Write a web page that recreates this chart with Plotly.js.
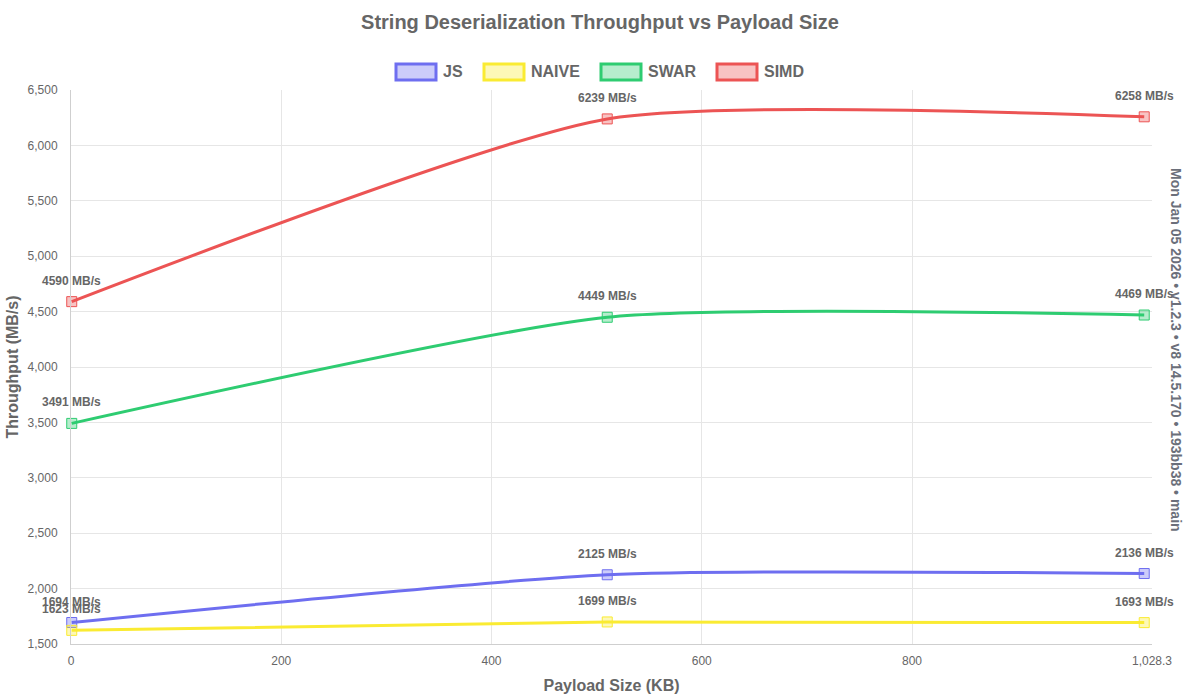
<!DOCTYPE html>
<html>
<head>
<meta charset="utf-8">
<script src="https://cdn.plot.ly/plotly-3.0.1.min.js"></script>
<style>html,body{margin:0;padding:0;background:#fff;}#chart{width:1200px;height:700px;}</style>
</head>
<body>
<div id="chart"></div>
<script>
// ---- data ----
const payloadKB = [0.7, 510.1, 1020.9];
const seriesNames = ["JS", "NAIVE", "SWAR", "SIMD"];
const jsValues = [1694, 2125, 2136];
const naiveValues = [1623, 1699, 1693];
const swarValues = [3491, 4449, 4469];
const simdValues = [4590, 6239, 6258];
const xTickVals = [0, 200, 400, 600, 800, 1028.3];
const xTickText = ["0", "200", "400", "600", "800", "1,028.3"];
const footerText = "Mon Jan 05 2026 • v1.2.3 • v8 14.5.170 • 193bb38 • main";
const titleText = "String Deserialization Throughput vs Payload Size";

// ---- styles ----
const lineColors = ["rgb(110,110,240)", "rgb(250,235,50)", "rgb(46,204,113)", "rgb(236,84,84)"];
const fillColors = ["rgba(110,110,240,0.35)", "rgba(250,235,50,0.35)", "rgba(46,204,113,0.35)", "rgba(236,84,84,0.35)"];
const allValues = [jsValues, naiveValues, swarValues, simdValues];

const W = 1200, H = 700;
const M = {l: 71, r: 48, t: 90, b: 56};
const pw = W - M.l - M.r, ph = H - M.t - M.b;
const px = x => (x - M.l) / pw;
const py = y => (H - M.b - y) / ph;
const FONT = "Liberation Sans, Arial, Helvetica, sans-serif";
const TXT = "#666";

const traces = seriesNames.map((name, i) => ({
  type: "scatter",
  mode: "lines+markers",
  name: name,
  x: payloadKB,
  y: allValues[i],
  line: {color: lineColors[i], width: 3, shape: "spline", smoothing: 0.6},
  marker: {symbol: "square", size: 10, color: fillColors[i], line: {color: lineColors[i], width: 1}},
  cliponaxis: false,
  showlegend: false,
  hoverinfo: "none"
}));

const annotations = [];
const shapes = [];
seriesNames.forEach((name, i) => {
  allValues[i].forEach((v, j) => {
    annotations.push({
      x: payloadKB[j], y: v, xref: "x", yref: "y",
      text: v + " MB/s", showarrow: false,
      yanchor: "middle", xanchor: "center", yshift: 21,
      font: {family: FONT, size: 12, color: TXT, weight: "bold"}
    });
  });
});

// custom legend (Chart.js-style boxes)
const legendStarts = [395, 483, 600, 716];
seriesNames.forEach((name, i) => {
  const x0 = legendStarts[i];
  shapes.push({
    type: "rect", xref: "paper", yref: "paper",
    x0: px(x0 + 1), x1: px(x0 + 41), y0: py(80), y1: py(64),
    line: {color: lineColors[i], width: 3}, fillcolor: fillColors[i]
  });
  annotations.push({
    xref: "paper", yref: "paper", x: px(x0 + 46), y: py(72),
    xanchor: "left", yanchor: "middle", showarrow: false, text: name,
    font: {family: FONT, size: 16, color: TXT, weight: "bold"}
  });
});

annotations.push({
  xref: "paper", yref: "paper", x: px(1176), y: py(350),
  xanchor: "center", yanchor: "middle", showarrow: false,
  textangle: 90, text: footerText,
  font: {family: FONT, size: 14, color: "#6b6f7a", weight: "bold"}
});

const layout = {
  width: W, height: H,
  margin: M,
  paper_bgcolor: "#fff", plot_bgcolor: "#fff",
  separators: ".,",
  font: {family: FONT, color: TXT, size: 12},
  title: {
    text: titleText, x: 0.5, xref: "container", xanchor: "center",
    y: 1 - 22 / H, yref: "container", yanchor: "middle",
    font: {family: FONT, size: 20, color: TXT, weight: "bold"}
  },
  xaxis: {
    range: [0, 1028.3], tickmode: "array", tickvals: xTickVals, ticktext: xTickText,
    showgrid: true, gridcolor: "#e6e6e6", gridwidth: 1,
    showline: true, linecolor: "#cfcfcf", linewidth: 1, zeroline: false,
    ticks: "", ticklabelstandoff: 6,
    tickfont: {family: FONT, size: 12, color: TXT},
    title: {text: "Payload Size (KB)", standoff: 12, font: {family: FONT, size: 16, color: TXT, weight: "bold"}}
  },
  yaxis: {
    range: [1500, 6500], dtick: 500, tick0: 1500, tickformat: ",d",
    showgrid: true, gridcolor: "#e6e6e6", gridwidth: 1,
    showline: true, linecolor: "#cfcfcf", linewidth: 1, zeroline: false,
    ticks: "", ticklabelstandoff: 10,
    tickfont: {family: FONT, size: 12, color: TXT},
    title: {text: "Throughput (MB/s)", standoff: 4, font: {family: FONT, size: 16, color: TXT, weight: "bold"}}
  },
  showlegend: false,
  annotations: annotations,
  shapes: shapes
};

Plotly.newPlot("chart", traces, layout, {displayModeBar: false, staticPlot: true});
</script>
</body>
</html>
